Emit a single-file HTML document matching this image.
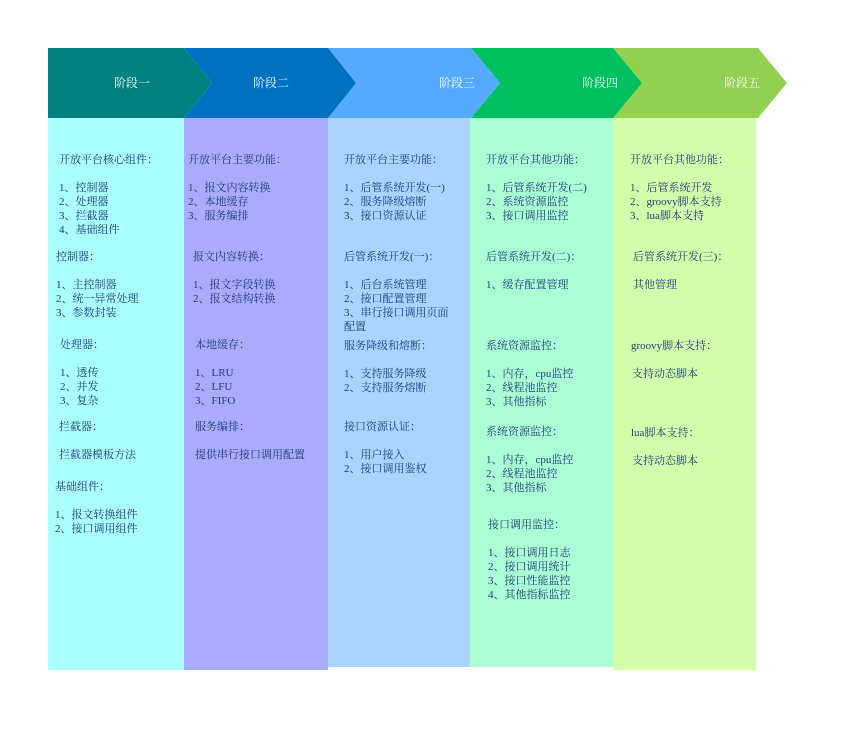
<!DOCTYPE html>
<html><head><meta charset="utf-8"><style>
html,body{margin:0;padding:0;background:#fff;}
body{width:848px;height:732px;position:relative;overflow:hidden;font-family:"Liberation Serif","Noto Serif CJK SC","Noto Sans CJK SC",serif;}
.c{position:absolute;}
.t{position:absolute;font-size:11px;line-height:14px;color:#1f3c78;white-space:nowrap;}
.h{position:absolute;font-size:12px;line-height:14px;color:#fff;white-space:nowrap;}
</style></head><body>
<div class="c" style="left:48px;top:118px;width:136px;height:552px;background:#aaffff"></div>
<div class="c" style="left:184px;top:118px;width:144px;height:552px;background:#aaaaff"></div>
<div class="c" style="left:328px;top:118px;width:142px;height:549px;background:#aad4ff"></div>
<div class="c" style="left:470px;top:118px;width:143px;height:549px;background:#aaffd4"></div>
<div class="c" style="left:613px;top:118px;width:143px;height:552px;background:#d4ffaa"></div>
<svg class="c" style="left:0;top:0" width="848" height="130">
<polygon points="613,48 758,48 787,83 758,118 613,118 642,83" fill="#92d050"/>
<polygon points="471,48 613,48 642,83 613,118 471,118 500,83" fill="#00c060"/>
<polygon points="328,48 471,48 500,83 471,118 328,118 356,83" fill="#55aaff"/>
<polygon points="184,48 328,48 356,83 328,118 184,118 212,83" fill="#0070c0"/>
<polygon points="48,48 184,48 212,83 184,118 48,118" fill="#008080"/>
</svg>
<div class="h" style="left:114px;top:76px">阶段一</div>
<div class="h" style="left:253px;top:76px">阶段二</div>
<div class="h" style="left:439px;top:76px">阶段三</div>
<div class="h" style="left:582px;top:76px">阶段四</div>
<div class="h" style="left:724px;top:76px">阶段五</div>

<div class="t" style="left:59px;top:153px">开放平台核心组件：</div>
<div class="t" style="left:59px;top:181px">1、控制器</div>
<div class="t" style="left:59px;top:195px">2、处理器</div>
<div class="t" style="left:59px;top:209px">3、拦截器</div>
<div class="t" style="left:59px;top:223px">4、基础组件</div>
<div class="t" style="left:56px;top:250px">控制器：</div>
<div class="t" style="left:56px;top:278px">1、主控制器</div>
<div class="t" style="left:56px;top:292px">2、统一异常处理</div>
<div class="t" style="left:56px;top:306px">3、参数封装</div>
<div class="t" style="left:60px;top:338px">处理器：</div>
<div class="t" style="left:60px;top:366px">1、透传</div>
<div class="t" style="left:60px;top:380px">2、并发</div>
<div class="t" style="left:60px;top:394px">3、复杂</div>
<div class="t" style="left:59px;top:420px">拦截器：</div>
<div class="t" style="left:59px;top:448px">拦截器模板方法</div>
<div class="t" style="left:55px;top:480px">基础组件：</div>
<div class="t" style="left:55px;top:508px">1、报文转换组件</div>
<div class="t" style="left:55px;top:522px">2、接口调用组件</div>

<div class="t" style="left:188px;top:153px">开放平台主要功能：</div>
<div class="t" style="left:188px;top:181px">1、报文内容转换</div>
<div class="t" style="left:188px;top:195px">2、本地缓存</div>
<div class="t" style="left:188px;top:209px">3、服务编排</div>
<div class="t" style="left:193px;top:250px">报文内容转换：</div>
<div class="t" style="left:193px;top:278px">1、报文字段转换</div>
<div class="t" style="left:193px;top:292px">2、报文结构转换</div>
<div class="t" style="left:195px;top:338px">本地缓存：</div>
<div class="t" style="left:195px;top:366px">1、LRU</div>
<div class="t" style="left:195px;top:380px">2、LFU</div>
<div class="t" style="left:195px;top:394px">3、FIFO</div>
<div class="t" style="left:195px;top:420px">服务编排：</div>
<div class="t" style="left:195px;top:448px">提供串行接口调用配置</div>

<div class="t" style="left:344px;top:153px">开放平台主要功能：</div>
<div class="t" style="left:344px;top:181px">1、后管系统开发(一)</div>
<div class="t" style="left:344px;top:195px">2、服务降级熔断</div>
<div class="t" style="left:344px;top:209px">3、接口资源认证</div>
<div class="t" style="left:344px;top:250px">后管系统开发(一)：</div>
<div class="t" style="left:344px;top:278px">1、后台系统管理</div>
<div class="t" style="left:344px;top:292px">2、接口配置管理</div>
<div class="t" style="left:344px;top:306px">3、串行接口调用页面</div>
<div class="t" style="left:344px;top:320px">配置</div>
<div class="t" style="left:344px;top:339px">服务降级和熔断：</div>
<div class="t" style="left:344px;top:367px">1、支持服务降级</div>
<div class="t" style="left:344px;top:381px">2、支持服务熔断</div>
<div class="t" style="left:344px;top:420px">接口资源认证：</div>
<div class="t" style="left:344px;top:448px">1、用户接入</div>
<div class="t" style="left:344px;top:462px">2、接口调用鉴权</div>

<div class="t" style="left:486px;top:153px">开放平台其他功能：</div>
<div class="t" style="left:486px;top:181px">1、后管系统开发(二)</div>
<div class="t" style="left:486px;top:195px">2、系统资源监控</div>
<div class="t" style="left:486px;top:209px">3、接口调用监控</div>
<div class="t" style="left:486px;top:250px">后管系统开发(二)：</div>
<div class="t" style="left:486px;top:278px">1、缓存配置管理</div>
<div class="t" style="left:486px;top:339px">系统资源监控：</div>
<div class="t" style="left:486px;top:367px">1、内存，cpu监控</div>
<div class="t" style="left:486px;top:381px">2、线程池监控</div>
<div class="t" style="left:486px;top:395px">3、其他指标</div>
<div class="t" style="left:486px;top:425px">系统资源监控：</div>
<div class="t" style="left:486px;top:453px">1、内存，cpu监控</div>
<div class="t" style="left:486px;top:467px">2、线程池监控</div>
<div class="t" style="left:486px;top:481px">3、其他指标</div>
<div class="t" style="left:488px;top:518px">接口调用监控：</div>
<div class="t" style="left:488px;top:546px">1、接口调用日志</div>
<div class="t" style="left:488px;top:560px">2、接口调用统计</div>
<div class="t" style="left:488px;top:574px">3、接口性能监控</div>
<div class="t" style="left:488px;top:588px">4、其他指标监控</div>

<div class="t" style="left:630px;top:153px">开放平台其他功能：</div>
<div class="t" style="left:630px;top:181px">1、后管系统开发</div>
<div class="t" style="left:630px;top:195px">2、groovy脚本支持</div>
<div class="t" style="left:630px;top:209px">3、lua脚本支持</div>
<div class="t" style="left:633px;top:250px">后管系统开发(三)：</div>
<div class="t" style="left:633px;top:278px">其他管理</div>
<div class="t" style="left:631px;top:339px">groovy脚本支持：</div>
<div class="t" style="left:632px;top:367px">支持动态脚本</div>
<div class="t" style="left:631px;top:426px">lua脚本支持：</div>
<div class="t" style="left:632px;top:454px">支持动态脚本</div>
</body></html>
